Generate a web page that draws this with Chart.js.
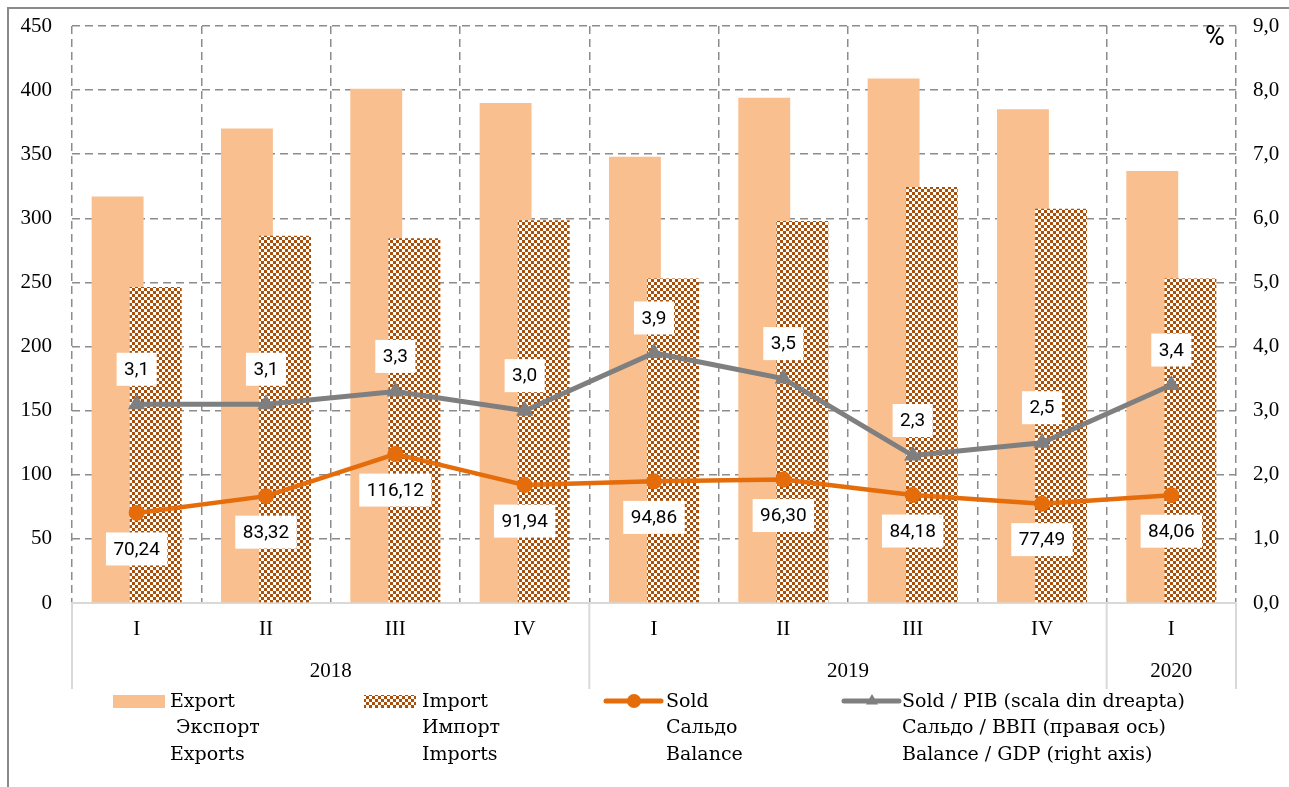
<!DOCTYPE html>
<html>
<head>
<meta charset="utf-8">
<script src="https://cdn.jsdelivr.net/npm/chart.js@4.4.1/dist/chart.umd.min.js"></script>
<style>
  html, body { margin: 0; padding: 0; background: #fff; overflow: hidden; }
  canvas { display: block; }
</style>
</head>
<body>
<canvas id="chart" width="1289" height="787"></canvas>
<script>
"use strict";

// Data
const quarters = ['I', 'II', 'III', 'IV', 'I', 'II', 'III', 'IV', 'I'];
const years = ['2018', '2018', '2018', '2018', '2019', '2019', '2019', '2019', '2020'];
const exportValues = [317, 370, 401, 390, 348, 394, 409, 385, 337];
const importValues = [246.5, 286.5, 284.5, 298.5, 253, 298, 324.5, 307.5, 253];
const balanceValues = [70.24, 83.32, 116.12, 91.94, 94.86, 96.30, 84.18, 77.49, 84.06];
const balanceGdpValues = [3.1, 3.1, 3.3, 3.0, 3.9, 3.5, 2.3, 2.5, 3.4];
const leftAxis = { min: 0, max: 450, step: 50 };
const rightAxis = { min: 0, max: 9, step: 1 };
const legendTexts = [
  ['Export', ' Экспорт', 'Exports'],
  ['Import', 'Импорт', 'Imports'],
  ['Sold', 'Сальдо', 'Balance'],
  ['Sold / PIB (scala din dreapta)', 'Сальдо / ВВП (правая ось)', 'Balance / GDP (right axis)']
];

const SERIF = '"Liberation Serif", "DejaVu Serif", serif';
const WIDE_SERIF = '"DejaVu Serif", "Liberation Serif", serif';
const SANS = 'Roboto, "Open Sans", sans-serif';
const EXPORT_COLOR = '#F9BF8F';
const IMPORT_COLOR = '#A84F0C';
const BALANCE_COLOR = '#E46C0A';
const GDP_COLOR = '#7F7F7F';
const GRID_COLOR = '#8c8c8c';
const AXIS_COLOR = '#d9d9d9';

//Utils functions
function comma(v, digits) {
  return v.toFixed(digits).replace('.', ',');
}

function makeChecker(color) {
  const c = document.createElement('canvas');
  c.width = 6;
  c.height = 6;
  const g = c.getContext('2d');
  g.fillStyle = '#fff';
  g.fillRect(0, 0, 6, 6);
  g.fillStyle = color;
  g.fillRect(0, 0, 3, 3);
  g.fillRect(3, 3, 3, 3);
  return g.createPattern(c, 'repeat');
}

const checker = makeChecker(IMPORT_COLOR);

// vertical axes: fixed width, no extra room for the end labels
function fixAxis(width) {
  return function(scale) {
    scale.width = width;
    scale.paddingTop = 0;
    scale.paddingBottom = 0;
  };
}

// Import bars overlap export bars and sit on top of them
const importOnTop = {
  id: 'importOnTop',
  beforeDatasetDraw(chart, args) {
    if (args.index === 1) return false;
  },
  afterDatasetDraw(chart, args) {
    if (args.index === 0) {
      chart.getDatasetMeta(1).controller.draw();
    }
  }
};

// white boxed value labels for both lines
const valueLabels = {
  id: 'valueLabels',
  afterDatasetsDraw(chart) {
    const ctx = chart.ctx;
    const specs = [
      { index: 2, digits: 2, dy: 36 },
      { index: 3, digits: 1, dy: -35 }
    ];
    ctx.save();
    ctx.font = '19px ' + SANS;
    ctx.textAlign = 'center';
    ctx.textBaseline = 'middle';
    specs.forEach(spec => {
      const meta = chart.getDatasetMeta(spec.index);
      const values = chart.data.datasets[spec.index].data;
      meta.data.forEach((pt, i) => {
        const text = comma(values[i], spec.digits);
        const w = ctx.measureText(text).width + 15;
        const h = 33;
        const cx = pt.x;
        const cy = pt.y + spec.dy;
        ctx.fillStyle = '#fff';
        ctx.fillRect(cx - w / 2, cy - h / 2, w, h);
        ctx.fillStyle = '#000';
        ctx.fillText(text, cx, cy + 1);
      });
    });
    ctx.restore();
  }
};

// year row under the quarters, frame, % sign and legend
const decorations = {
  id: 'decorations',
  afterDraw(chart) {
    const ctx = chart.ctx;
    const x = chart.scales.x;
    const half = (x.getPixelForValue(1) - x.getPixelForValue(0)) / 2;

    // year groups
    const groups = [];
    years.forEach((y, i) => {
      const last = groups[groups.length - 1];
      if (last && last.year === y) last.end = i;
      else groups.push({ year: y, start: i, end: i });
    });
    ctx.save();
    ctx.strokeStyle = AXIS_COLOR;
    ctx.lineWidth = 2;
    ctx.font = '21px ' + SERIF;
    ctx.fillStyle = '#000';
    ctx.textAlign = 'center';
    ctx.textBaseline = 'middle';
    groups.forEach((g, k) => {
      const left = x.getPixelForValue(g.start) - half;
      const right = x.getPixelForValue(g.end) + half;
      const edges = k === 0 ? [left, right] : [right];
      edges.forEach(px => {
        ctx.beginPath();
        ctx.moveTo(px, x.top);
        ctx.lineTo(px, x.top + 86);
        ctx.stroke();
      });
      ctx.fillText(g.year, (left + right) / 2, 671);
    });

    // outer frame
    ctx.strokeStyle = '#8a8a8a';
    ctx.lineWidth = 2;
    ctx.beginPath();
    ctx.moveTo(8, 787);
    ctx.lineTo(8, 8);
    ctx.lineTo(1289, 8);
    ctx.stroke();

    // % sign
    ctx.font = '27px ' + SANS;
    ctx.fillText('%', 1215, 38);

    // legend
    const ds = chart.data.datasets;
    const items = [
      { sx: 113, tx: 170 },
      { sx: 364, tx: 422 },
      { sx: 606, tx: 666 },
      { sx: 844, tx: 902 }
    ];
    const rowY = [702, 728, 755];
    ctx.textAlign = 'left';
    ctx.font = '19px ' + WIDE_SERIF;
    items.forEach((it, i) => {
      const d = ds[i];
      if (d.type === 'line') {
        ctx.strokeStyle = d.borderColor;
        ctx.lineWidth = 5;
        ctx.lineCap = 'round';
        ctx.beginPath();
        ctx.moveTo(it.sx, 701);
        ctx.lineTo(it.sx + 55, 701);
        ctx.stroke();
        ctx.fillStyle = d.pointBackgroundColor;
        ctx.strokeStyle = d.pointBorderColor;
        ctx.lineWidth = d.pointBorderWidth;
        Chart.helpers.drawPoint(ctx, {
          pointStyle: d.pointStyle,
          radius: d.pointStyle === 'triangle' ? 5 : 7,
          borderWidth: d.pointBorderWidth
        }, it.sx + 28, 701);
      } else {
        ctx.fillStyle = d.backgroundColor;
        ctx.fillRect(it.sx, 695, 52, 13);
      }
      ctx.fillStyle = '#000';
      legendTexts[i].forEach((line, r) => {
        ctx.fillText(line, it.tx, rowY[r]);
      });
    });
    ctx.restore();
  }
};

function init() {
  const canvas = document.getElementById('chart');
  new Chart(canvas.getContext('2d'), {
    type: 'bar',
    data: {
      labels: quarters,
      datasets: [
        {
          label: legendTexts[0][0],
          data: exportValues,
          backgroundColor: EXPORT_COLOR,
          borderWidth: 0,
          categoryPercentage: 0.59,
          barPercentage: 1.36,
          order: 3
        },
        {
          label: legendTexts[1][0],
          data: importValues,
          backgroundColor: checker,
          borderWidth: 0,
          categoryPercentage: 0.59,
          barPercentage: 1.36,
          order: 4
        },
        {
          type: 'line',
          label: legendTexts[2][0],
          data: balanceValues,
          yAxisID: 'y',
          borderColor: BALANCE_COLOR,
          borderWidth: 4.5,
          pointStyle: 'circle',
          pointRadius: 8,
          pointBackgroundColor: BALANCE_COLOR,
          pointBorderColor: BALANCE_COLOR,
          pointBorderWidth: 0,
          tension: 0,
          order: 1
        },
        {
          type: 'line',
          label: legendTexts[3][0],
          data: balanceGdpValues,
          yAxisID: 'y1',
          borderColor: GDP_COLOR,
          borderWidth: 5,
          pointStyle: 'triangle',
          pointRadius: 8,
          pointBackgroundColor: GDP_COLOR,
          pointBorderColor: GDP_COLOR,
          pointBorderWidth: 2,
          tension: 0,
          order: 0
        }
      ]
    },
    options: {
      responsive: false,
      animation: false,
      devicePixelRatio: 1,
      layout: { padding: { top: 26, left: 0, right: 0, bottom: 0 } },
      plugins: {
        legend: { display: false },
        tooltip: { enabled: false }
      },
      scales: {
        x: {
          offset: true,
          grid: { offset: true, color: GRID_COLOR, lineWidth: 1.5, drawTicks: false },
          border: { display: true, color: AXIS_COLOR, width: 2, dash: [8, 5] },
          ticks: { color: '#000', font: { family: SERIF, size: 21 }, padding: 14, maxRotation: 0 },
          afterFit(scale) { scale.height = 184; }
        },
        y: {
          position: 'left',
          min: leftAxis.min,
          max: leftAxis.max,
          grid: {
            color: c => (c.tick && c.tick.value === 0 ? 'rgba(0,0,0,0)' : GRID_COLOR),
            lineWidth: 1.5,
            drawTicks: false
          },
          border: { display: false, dash: [8, 5] },
          ticks: { stepSize: leftAxis.step, color: '#000', font: { family: SERIF, size: 21 }, padding: 20 },
          afterFit: fixAxis(72)
        },
        y1: {
          position: 'right',
          min: rightAxis.min,
          max: rightAxis.max,
          grid: { drawOnChartArea: false, drawTicks: false },
          border: { display: false },
          ticks: {
            stepSize: rightAxis.step,
            color: '#000',
            font: { family: SERIF, size: 21 },
            padding: 17,
            callback: v => comma(v, 1)
          },
          afterFit: fixAxis(53)
        }
      }
    },
    plugins: [importOnTop, valueLabels, decorations]
  });
}

Promise.all([
  document.fonts.load('21px "Liberation Serif"'),
  document.fonts.load('18px "DejaVu Serif"'),
  document.fonts.load('18px Roboto')
]).then(init, init);
</script>
</body>
</html>
